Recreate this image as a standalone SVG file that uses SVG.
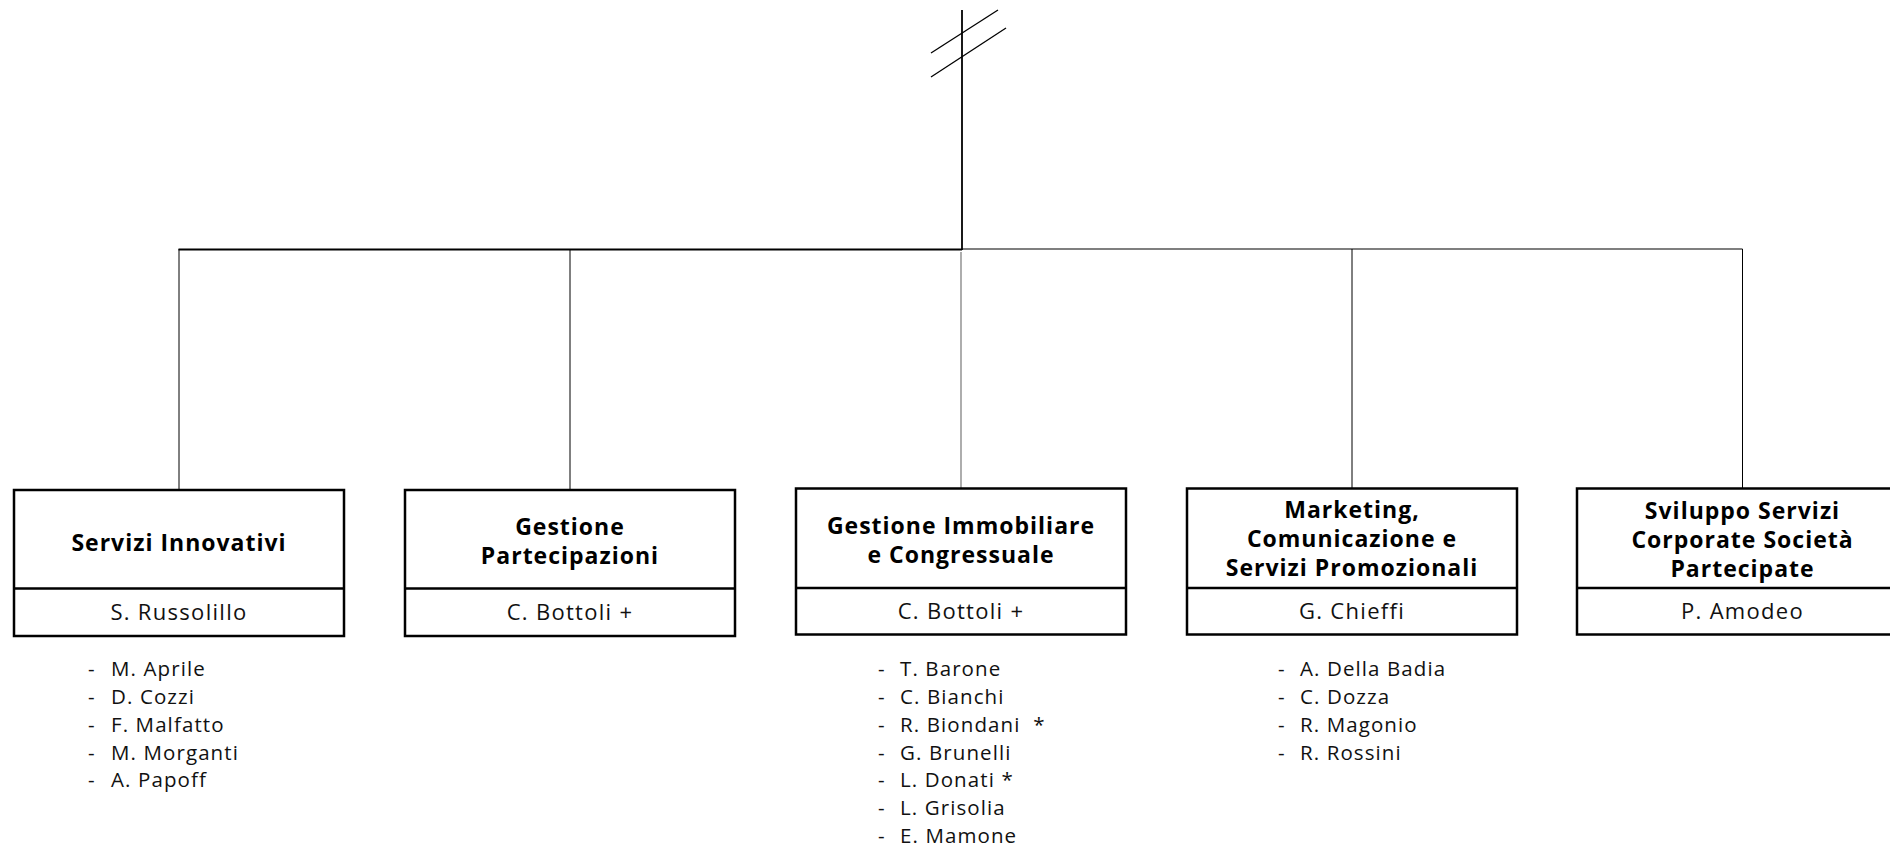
<svg xmlns="http://www.w3.org/2000/svg" width="1890" height="847" viewBox="0 0 1890 847">
<style>
.box{fill:#fff;stroke:#000;stroke-width:2.5}
.div{stroke:#000;stroke-width:2.5}
.t{font-family:"Open Sans","Liberation Sans",sans-serif;font-weight:700;font-size:23px;letter-spacing:1px;fill:#000;text-anchor:middle}
.n{font-family:"Open Sans","Liberation Sans",sans-serif;font-weight:400;font-size:22px;letter-spacing:1.3px;fill:#111;text-anchor:middle}
.l{font-family:"Open Sans","Liberation Sans",sans-serif;font-weight:400;font-size:20.5px;letter-spacing:1.1px;fill:#111}
.c{stroke:#000;stroke-width:1;fill:none}
</style>
<rect width="1890" height="847" fill="#fff"/>
<g id="connectors">
<line x1="962" y1="10" x2="962" y2="250" stroke="#000" stroke-width="1.8"/>
<line x1="931" y1="53" x2="998" y2="10" stroke="#000" stroke-width="1.3"/>
<line x1="931" y1="77" x2="1006" y2="28" stroke="#000" stroke-width="1.3"/>
<line x1="178.5" y1="249.5" x2="962" y2="249.5" stroke="#000" stroke-width="2"/>
<line x1="962" y1="249" x2="1742.5" y2="249" stroke="#000" stroke-width="1.2"/>
<line class="c" x1="179" y1="249" x2="179" y2="490"/>
<line class="c" x1="570" y1="249" x2="570" y2="490"/>
<line x1="961" y1="252" x2="961" y2="488" stroke="#777" stroke-width="1.2"/>
<line class="c" x1="1352" y1="249" x2="1352" y2="488"/>
<line class="c" x1="1742.5" y1="249" x2="1742.5" y2="488"/>
</g>
<g id="servizi-innovativi">
<rect class="box" x="14" y="490" width="330" height="146"/>
<line class="div" x1="14" y1="588.5" x2="344" y2="588.5"/>
<text class="t" x="179" y="551">Servizi Innovativi</text>
<text class="n" x="179" y="620">S. Russolillo</text>
</g>
<g id="gestione-partecipazioni">
<rect class="box" x="405" y="490" width="330" height="146"/>
<line class="div" x1="405" y1="588.5" x2="735" y2="588.5"/>
<text class="t" x="570" y="535">Gestione</text>
<text class="t" x="570" y="564">Partecipazioni</text>
<text class="n" x="570" y="620">C. Bottoli +</text>
</g>
<g id="gestione-immobiliare">
<rect class="box" x="796" y="488.5" width="330" height="146"/>
<line class="div" x1="796" y1="588" x2="1126" y2="588"/>
<text class="t" x="961" y="533.5">Gestione Immobiliare</text>
<text class="t" x="961" y="563">e Congressuale</text>
<text class="n" x="961" y="619">C. Bottoli +</text>
</g>
<g id="marketing">
<rect class="box" x="1187" y="488.5" width="330" height="146"/>
<line class="div" x1="1187" y1="588" x2="1517" y2="588"/>
<text class="t" x="1352" y="518">Marketing,</text>
<text class="t" x="1352" y="547">Comunicazione e</text>
<text class="t" x="1352" y="576">Servizi Promozionali</text>
<text class="n" x="1352" y="619">G. Chieffi</text>
</g>
<g id="sviluppo-servizi">
<rect class="box" x="1577" y="488.5" width="331" height="146"/>
<line class="div" x1="1577" y1="588" x2="1908" y2="588"/>
<text class="t" x="1742.5" y="519">Sviluppo Servizi</text>
<text class="t" x="1742.5" y="548">Corporate Società</text>
<text class="t" x="1742.5" y="577">Partecipate</text>
<text class="n" x="1742.5" y="619">P. Amodeo</text>
</g>
<g id="list-servizi-innovativi" class="l">
<text x="88" y="676">-</text><text x="111" y="676">M. Aprile</text>
<text x="88" y="704">-</text><text x="111" y="704">D. Cozzi</text>
<text x="88" y="732">-</text><text x="111" y="732">F. Malfatto</text>
<text x="88" y="760">-</text><text x="111" y="760">M. Morganti</text>
<text x="88" y="787">-</text><text x="111" y="787">A. Papoff</text>
</g>
<g id="list-gestione-immobiliare" class="l">
<text x="878" y="676">-</text><text x="900" y="676">T. Barone</text>
<text x="878" y="704">-</text><text x="900" y="704">C. Bianchi</text>
<text x="878" y="731.5">-</text><text x="900" y="731.5" xml:space="preserve">R. Biondani  *</text>
<text x="878" y="759.5">-</text><text x="900" y="759.5">G. Brunelli</text>
<text x="878" y="787">-</text><text x="900" y="787">L. Donati *</text>
<text x="878" y="815">-</text><text x="900" y="815">L. Grisolia</text>
<text x="878" y="843">-</text><text x="900" y="843">E. Mamone</text>
</g>
<g id="list-marketing" class="l">
<text x="1278" y="676">-</text><text x="1300" y="676">A. Della Badia</text>
<text x="1278" y="704">-</text><text x="1300" y="704">C. Dozza</text>
<text x="1278" y="732">-</text><text x="1300" y="732">R. Magonio</text>
<text x="1278" y="760">-</text><text x="1300" y="760">R. Rossini</text>
</g>
</svg>
